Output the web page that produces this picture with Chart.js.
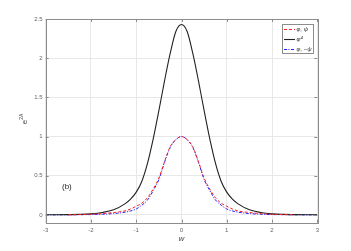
<!DOCTYPE html>
<html><head><meta charset="utf-8">
<script src="https://cdn.jsdelivr.net/npm/chart.js@4/dist/chart.umd.min.js"></script>
<style>html,body{margin:0;padding:0;background:#fff;overflow:hidden}#wrap{width:351px;height:251px}</style>
</head><body><div id="wrap"><canvas id="c" width="351" height="251"></canvas></div>
<script>
const xs = [-3,-2.75,-2.5,-2.25,-2,-1.75,-1.5,-1.25,-1.125,-1,-0.875,-0.75,-0.625,-0.5,-0.375,-0.25,-0.125,0,0.125,0.25,0.375,0.5,0.625,0.75,0.875,1,1.125,1.25,1.5,1.75,2,2.25,2.5,2.75,3];
const phiPsi = [null,null,0.002,0.004,0.008,0.016,0.03,0.05,0.075,0.11,0.15,0.22,0.33,0.47,0.68,0.87,0.96,1.0,0.96,0.87,0.68,0.47,0.33,0.22,0.15,0.11,0.075,0.05,0.03,0.016,0.008,0.004,0.002,null,null];
const phi4 = [0.0005,0.001,0.003,0.006,0.013,0.03,0.065,0.14,0.2,0.29,0.43,0.66,0.97,1.33,1.71,2.06,2.34,2.43,2.34,2.06,1.71,1.33,0.97,0.66,0.43,0.29,0.2,0.14,0.065,0.03,0.013,0.006,0.003,0.001,0.0005];
const phiMinusPsi = [0,0,0.001,0.002,0.004,0.008,0.017,0.034,0.05,0.075,0.125,0.19,0.31,0.45,0.67,0.86,0.96,1.0,0.96,0.86,0.67,0.45,0.31,0.19,0.125,0.075,0.05,0.034,0.017,0.008,0.004,0.002,0.001,0,0];
const xTicks = [-3,-2,-1,0,1,2,3];
const yTicks = [0,0.5,1,1.5,2,2.5];
const seriesNames = ['φ, ψ','φ⁴','φ, −ψ'];

const pts = arr => xs.map((x,i)=>({x:x,y:arr[i]}));
const FONT = '"Liberation Sans", Arial, sans-serif';
const AXC = '#8c8c8c';

const overlay = {
  id:'overlay',
  afterDatasetsDraw(chart){
    const ctx = chart.ctx, a = chart.chartArea, sx = chart.scales.x, sy = chart.scales.y;
    ctx.save();
    ctx.strokeStyle = AXC; ctx.lineWidth = 1;
    ctx.strokeRect(Math.round(a.left)+0.5, Math.round(a.top)+0.5, Math.round(a.right-a.left), Math.round(a.bottom-a.top));
    ctx.beginPath();
    xTicks.forEach(v=>{const p=Math.round(sx.getPixelForValue(v))+0.5; ctx.moveTo(p,a.bottom); ctx.lineTo(p,a.bottom-3); ctx.moveTo(p,a.top); ctx.lineTo(p,a.top+3);});
    yTicks.forEach(v=>{const p=Math.round(sy.getPixelForValue(v))+0.5; ctx.moveTo(a.left,p); ctx.lineTo(a.left+3,p); ctx.moveTo(a.right,p); ctx.lineTo(a.right-3,p);});
    ctx.stroke();
    // legend
    const lx=282.5, ly=24.5, lw=31, lh=29;
    ctx.fillStyle='#fff'; ctx.fillRect(lx,ly,lw,lh);
    ctx.strokeStyle='#8c8c8c'; ctx.strokeRect(lx,ly,lw,lh);
    chart.data.datasets.forEach((ds,i)=>{
      const y = 29.5 + i*10;
      ctx.strokeStyle = ds.borderColor; ctx.lineWidth = ds.borderWidth;
      ctx.setLineDash(ds.borderDash||[]);
      ctx.beginPath(); ctx.moveTo(284,y); ctx.lineTo(295,y); ctx.stroke();
      ctx.setLineDash([]);
      ctx.fillStyle='#333'; ctx.font='italic 6px '+FONT; ctx.textBaseline='middle'; ctx.textAlign='left';
      ctx.fillText(seriesNames[i], 296.5, y);
    });
    // (b)
    ctx.fillStyle='#222'; ctx.font='8px '+FONT; ctx.textBaseline='middle'; ctx.textAlign='left';
    ctx.fillText('(b)', 62, 187);
    // x label
    ctx.fillStyle='#444'; ctx.font='italic 8px '+FONT; ctx.textAlign='center';
    ctx.fillText('w', (a.left+a.right)/2, 239);
    // y label
    ctx.translate(24, (a.top+a.bottom)/2 - 2);
    ctx.rotate(-Math.PI/2);
    ctx.font='8px '+FONT; ctx.textAlign='left'; ctx.textBaseline='alphabetic';
    const w1 = ctx.measureText('e').width;
    ctx.font='5px '+FONT;
    const w2 = ctx.measureText('2A').width;
    const start = -(w1+w2)/2;
    ctx.font='8px '+FONT; ctx.fillText('e', start, 3);
    ctx.font='5px '+FONT; ctx.fillText('2A', start+w1, -1);
    ctx.restore();
  }
};

new Chart(document.getElementById('c'), {
  type:'line',
  data:{datasets:[
    {label:seriesNames[0], data:pts(phiPsi), borderColor:'#ff2020', borderWidth:1, borderDash:[3,2], pointRadius:0, cubicInterpolationMode:'monotone', spanGaps:false, fill:false},
    {label:seriesNames[1], data:pts(phi4), borderColor:'#222222', borderWidth:1.1, pointRadius:0, cubicInterpolationMode:'monotone', fill:false},
    {label:seriesNames[2], data:pts(phiMinusPsi), borderColor:'#2020ff', borderWidth:1, borderDash:[3,1.5,1,1.5], pointRadius:0, cubicInterpolationMode:'monotone', fill:false}
  ]},
  options:{
    responsive:false, animation:false, devicePixelRatio:1,
    layout:{padding:{left:0,right:33.7,top:19,bottom:0}},
    plugins:{legend:{display:false}, tooltip:{enabled:false}},
    scales:{
      x:{type:'linear', min:-3, max:3,
        afterBuildTicks:s=>{s.ticks = xTicks.map(v=>({value:v}));},
        afterFit:s=>{s.height=28.3;},
        grid:{color:'#e8e8e8', drawTicks:false}, border:{display:false},
        ticks:{font:{size:6,family:FONT}, color:'#666', padding:4, maxRotation:0, callback:v=>String(v)}},
      y:{type:'linear', min:-0.1, max:2.5,
        afterBuildTicks:s=>{s.ticks = yTicks.map(v=>({value:v}));},
        afterFit:s=>{s.width=45.7;},
        grid:{color:'#e8e8e8', drawTicks:false}, border:{display:false},
        ticks:{font:{size:6,family:FONT}, color:'#666', padding:3, callback:v=>String(v)}}
    }
  },
  plugins:[overlay]
});
</script></body></html>
